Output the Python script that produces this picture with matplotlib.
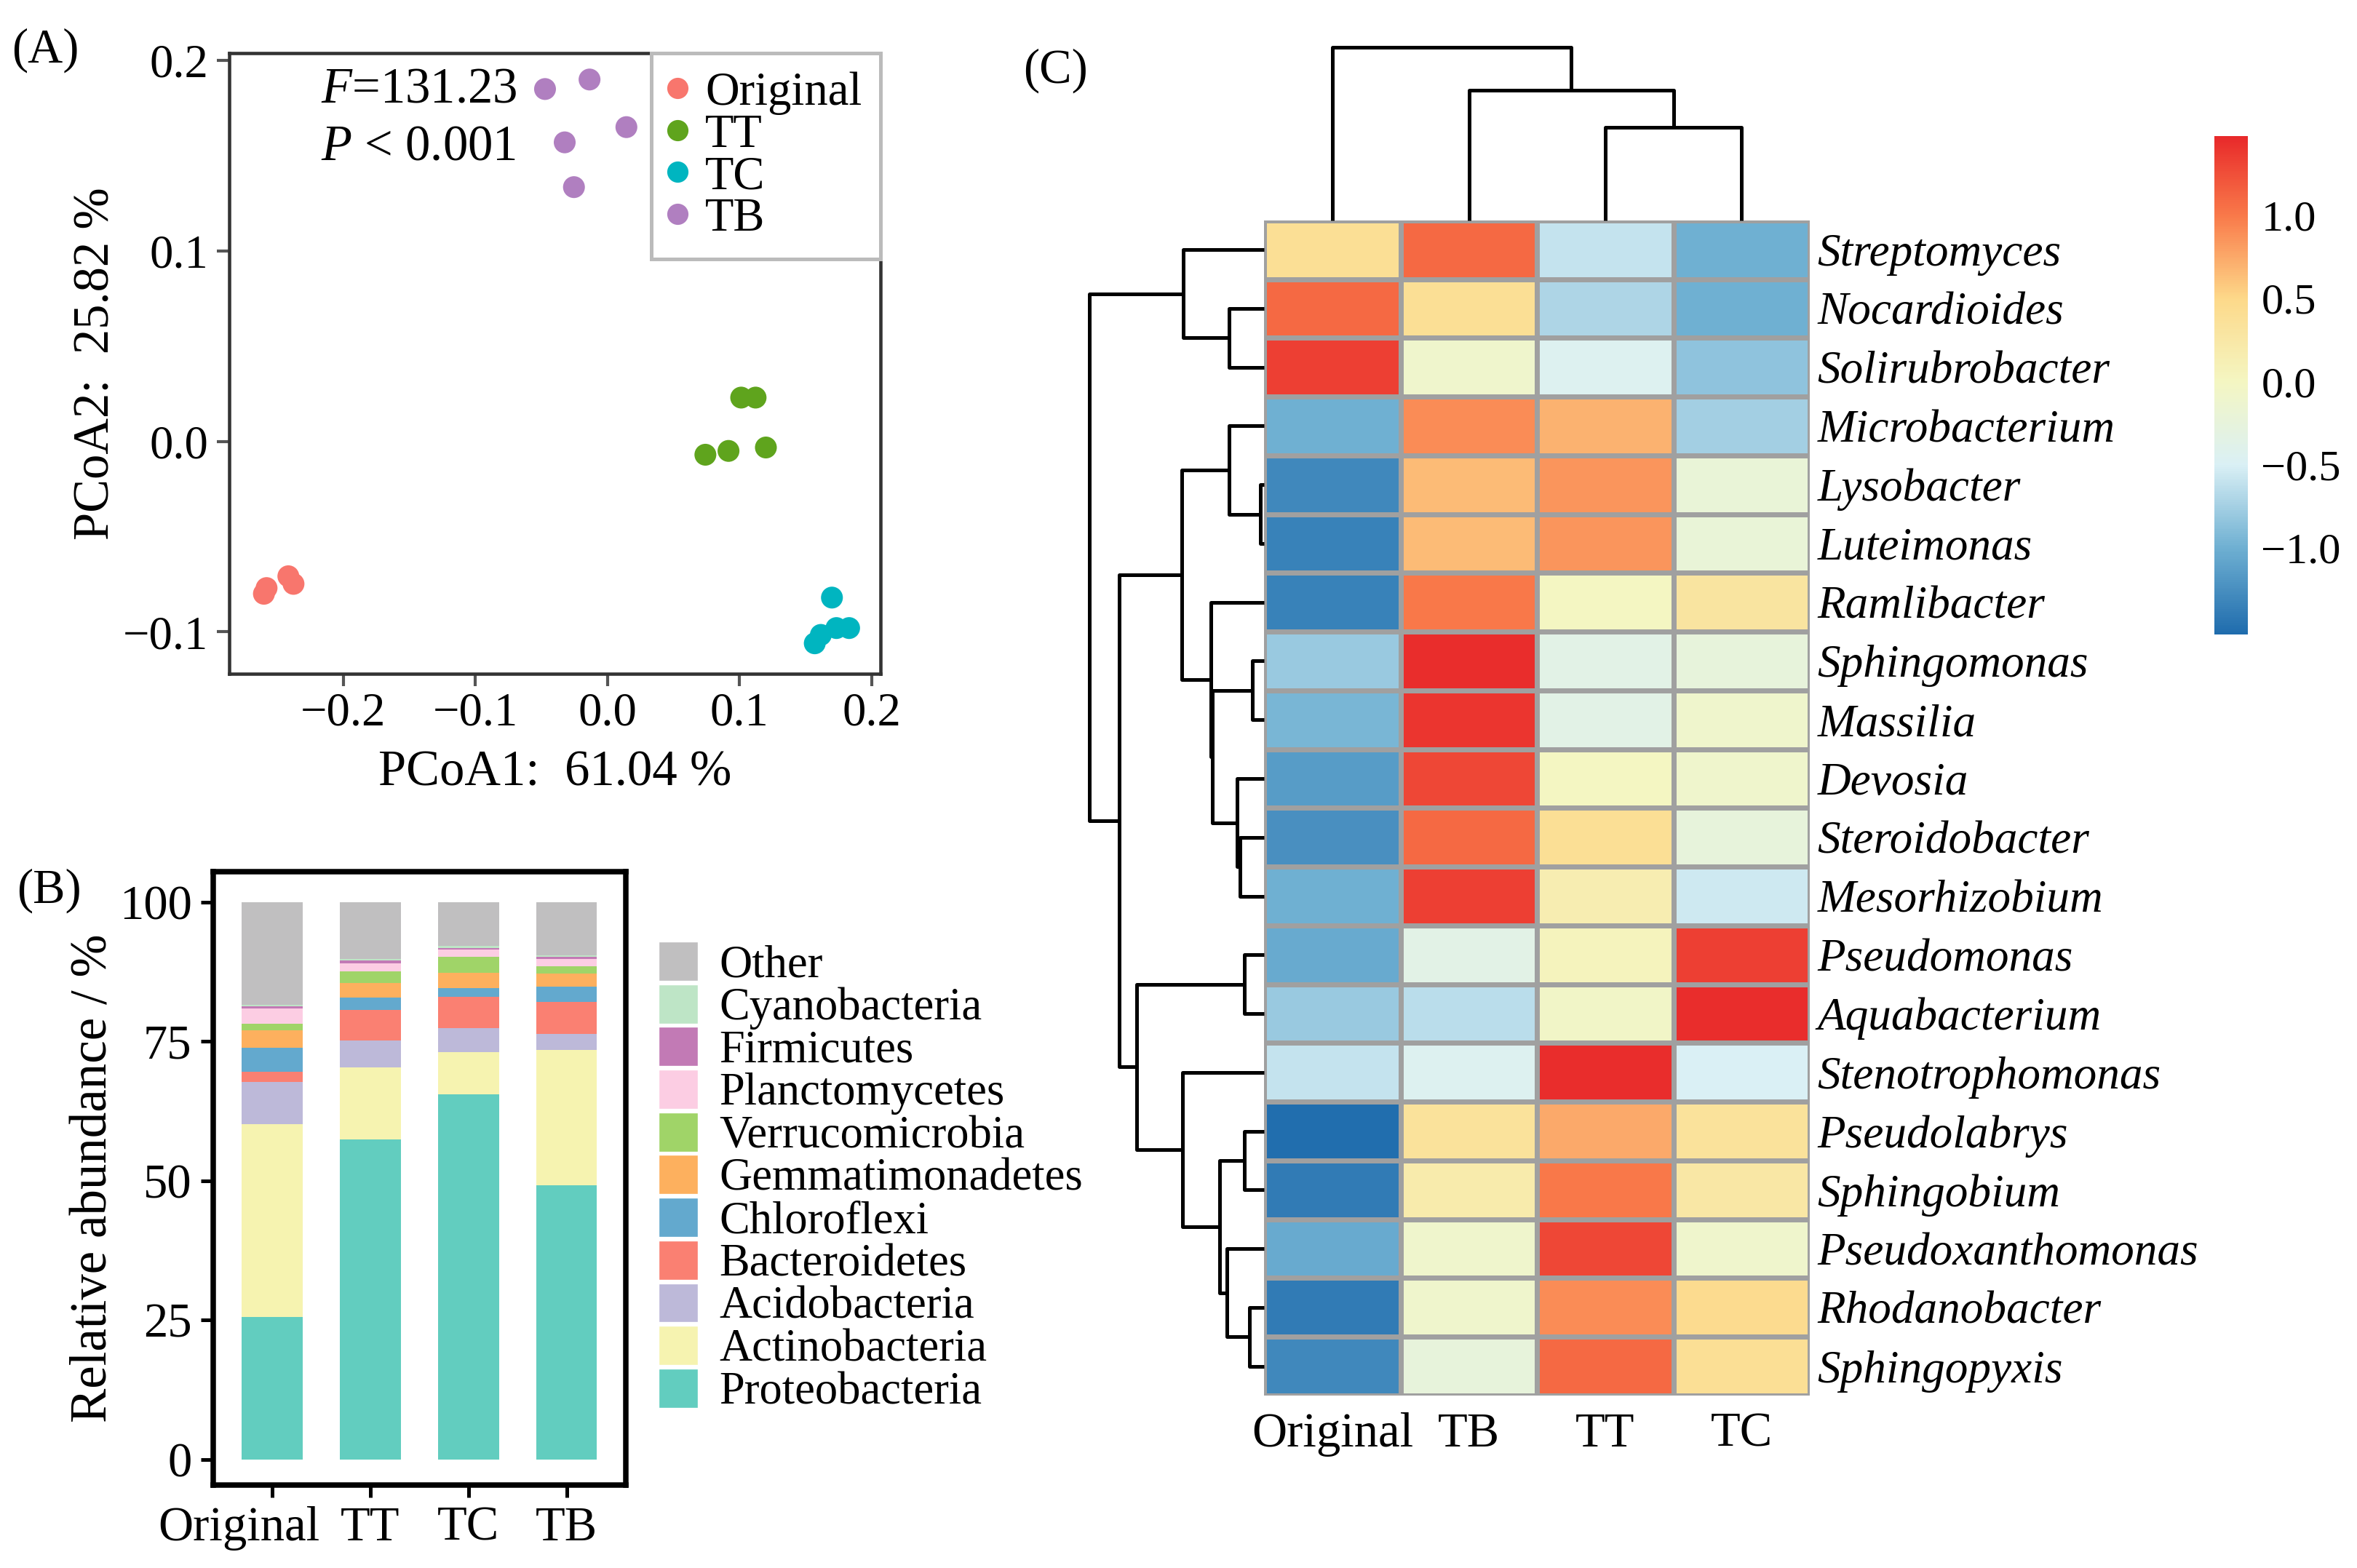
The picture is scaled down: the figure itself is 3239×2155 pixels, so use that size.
import numpy as np
import matplotlib
matplotlib.use("Agg")
import matplotlib.pyplot as plt
import matplotlib.transforms as mtransforms
from matplotlib.colors import LinearSegmentedColormap
from matplotlib.patches import Patch
from matplotlib.lines import Line2D

plt.rcParams['font.family'] = ['Liberation Serif', 'DejaVu Serif']
plt.rcParams['mathtext.fontset'] = 'custom'
plt.rcParams['mathtext.rm'] = 'Liberation Serif'
plt.rcParams['mathtext.it'] = 'Liberation Serif:italic'

# ---- (A) PCoA ----
groups = ["Original", "TT", "TC", "TB"]
group_colors = ["#F8766D", "#5FA41D", "#00B5C0", "#B07FC0"]
pc1_original = [-0.260, -0.258, -0.2415, -0.2376]
pc2_original = [-0.080, -0.077, -0.0708, -0.0748]
pc1_tt = [0.1013, 0.1122, 0.0742, 0.0917, 0.120]
pc2_tt = [0.023, 0.023, -0.007, -0.005, -0.0032]
pc1_tc = [0.170, 0.157, 0.1616, 0.1734, 0.183]
pc2_tc = [-0.082, -0.106, -0.1016, -0.098, -0.098]
pc1_tb = [-0.0472, -0.0135, 0.0144, -0.0323, -0.0253]
pc2_tb = [0.185, 0.190, 0.165, 0.157, 0.1335]

# ---- (B) relative abundance (Original, TT, TC, TB) ----
bar_samples = ["Original", "TT", "TC", "TB"]
phyla = ["Proteobacteria", "Actinobacteria", "Acidobacteria", "Bacteroidetes",
         "Chloroflexi", "Gemmatimonadetes", "Verrucomicrobia", "Planctomycetes",
         "Firmicutes", "Cyanobacteria", "Other"]
proteo = [25.5, 57.4, 65.5, 49.1]
actino = [34.6, 12.9, 7.5, 24.3]
acido = [7.6, 4.9, 4.3, 2.9]
bactero = [1.8, 5.4, 5.7, 5.7]
chloro = [4.3, 2.2, 1.5, 2.8]
gemma = [3.1, 2.7, 2.8, 2.3]
verru = [1.2, 2.1, 2.8, 1.3]
plancto = [2.8, 1.4, 1.4, 1.4]
firmi = [0.4, 0.5, 0.2, 0.4]
cyano = [0.2, 0.2, 0.4, 0.2]
other = [18.5, 10.3, 7.9, 9.6]
phylum_colors = ["#62CDBF", "#F6F3B0", "#BDB9D9", "#FA8072", "#63A9CE", "#FDB05E",
                 "#A0D468", "#FCCDE3", "#C27AB5", "#BEE5C6", "#C0BFC0"]

# ---- (C) heatmap, row z-scores ----
genera = ["Streptomyces", "Nocardioides", "Solirubrobacter", "Microbacterium",
          "Lysobacter", "Luteimonas", "Ramlibacter", "Sphingomonas", "Massilia",
          "Devosia", "Steroidobacter", "Mesorhizobium", "Pseudomonas",
          "Aquabacterium", "Stenotrophomonas", "Pseudolabrys", "Sphingobium",
          "Pseudoxanthomonas", "Rhodanobacter", "Sphingopyxis"]
heat_cols = ["Original", "TB", "TT", "TC"]
z_original = [0.4, 1.1, 1.35, -1.0, -1.3, -1.35, -1.35, -0.8, -0.95, -1.15,
              -1.25, -1.0, -1.05, -0.8, -0.6, -1.5, -1.4, -1.05, -1.4, -1.3]
z_tb = [1.1, 0.4, -0.1, 0.9, 0.65, 0.65, 1.0, 1.45, 1.4, 1.3,
        1.1, 1.35, -0.35, -0.65, -0.45, 0.35, 0.2, -0.1, -0.1, -0.25]
z_tt = [-0.6, -0.7, -0.45, 0.7, 0.85, 0.85, 0.0, -0.35, -0.35, 0.0,
        0.4, 0.15, 0.05, -0.05, 1.45, 0.75, 1.0, 1.3, 0.9, 1.1]
z_tc = [-1.0, -1.0, -0.85, -0.75, -0.2, -0.2, 0.3, -0.25, -0.1, -0.1,
        -0.25, -0.55, 1.35, 1.45, -0.5, 0.35, 0.25, -0.1, 0.45, 0.4]
# dendrograms: (height, left, right), leaves are indices
row_tree = (715, (330, 0, (143, 1, 2)),
            (592, (337, (145, 3, (15, 4, 5)),
                   (218, 6, (213, (48, 7, 8), (110, 9, (100, 10, 11))))),
             (522, (80, 12, 13),
              (335, 14, (182, (80, 15, 16), (152, 17, (62, 18, 19)))))))
col_tree = (340, 0, (255, 1, (182, 2, 3)))

fig = plt.figure(figsize=(3239 / 300, 2155 / 300), dpi=300)

# ---------------- panel A ----------------
ax = fig.add_axes([0.0974, 0.5703, 0.2763, 0.396])
pts = [(pc1_original, pc2_original), (pc1_tt, pc2_tt), (pc1_tc, pc2_tc), (pc1_tb, pc2_tb)]
for (xs, ys), c in zip(pts, group_colors):
    ax.scatter(xs, ys, s=52, color=c, edgecolors='none', zorder=3)
ax.set_xlim(-0.286, 0.207)
ax.set_ylim(-0.122, 0.204)
ax.set_xticks([-0.2, -0.1, 0.0, 0.1, 0.2])
ax.set_yticks([-0.1, 0.0, 0.1, 0.2])
ax.tick_params(labelsize=15.5, length=4, width=1.0, color='#555555', pad=3)
ax.tick_params(axis='x', pad=2)
for s in ax.spines.values():
    s.set_color('#333333')
    s.set_linewidth(1.1)
ax.set_xlabel("PCoA1:  61.04 %", fontsize=16.5, labelpad=5)
ax.set_ylabel("PCoA2:  25.82 %", fontsize=16.5, labelpad=1)
ax.text(0.14, 0.94, r"$F$=131.23", transform=ax.transAxes, fontsize=16.5, va='center')
ax.text(0.14, 0.848, r"$P$ < 0.001", transform=ax.transAxes, fontsize=16.5, va='center')
handles = [Line2D([], [], marker='o', ls='none', color=c, markersize=6) for c in group_colors]
leg = ax.legend(handles, groups, loc='upper right', bbox_to_anchor=(1.0, 1.0),
                borderaxespad=0, fontsize=15.5, handlelength=0.3, handletextpad=0.45,
                labelspacing=-0.03, borderpad=0.4, fancybox=False, framealpha=1)
leg.get_frame().set_edgecolor('#BBBBBB')
leg.get_frame().set_linewidth(1.2)
fig.text(0.005, 0.968, "(A)", fontsize=16, va='center')

# ---------------- panel B ----------------
axb = fig.add_axes([0.0904, 0.053, 0.175, 0.391])
stack = [proteo, actino, acido, bactero, chloro, gemma, verru, plancto, firmi, cyano, other]
xpos = np.arange(len(bar_samples))
bottom = np.zeros(len(bar_samples))
for vals, c in zip(stack, phylum_colors):
    axb.bar(xpos, vals, bottom=bottom, width=0.62, color=c, linewidth=0)
    bottom += np.array(vals)
axb.set_xlim(-0.6, 3.6)
axb.set_ylim(-4.6, 105.4)
axb.set_yticks([0, 25, 50, 75, 100])
axb.set_xticks(xpos)
axb.set_xticklabels(bar_samples)
axb.tick_params(labelsize=16, length=4, width=1.2, pad=3)
# first label sits left of its bar in the original
lab0 = axb.get_xticklabels()[0]
lab0.set_transform(lab0.get_transform() +
                   mtransforms.ScaledTranslation(-11 / 72, 0, fig.dpi_scale_trans))
for s in axb.spines.values():
    s.set_linewidth(1.8)
axb.set_ylabel("Relative abundance / %", fontsize=17, labelpad=0.5)
handles_b = [Patch(facecolor=c, edgecolor='white', linewidth=0.8) for c in phylum_colors][::-1]
fig.legend(handles_b, phyla[::-1], loc='upper left', bbox_to_anchor=(0.279, 0.400),
           frameon=False, fontsize=15, handlelength=0.9, handleheight=1.0,
           handletextpad=0.45, labelspacing=-0.075, borderpad=0, borderaxespad=0)
fig.text(0.007, 0.432, "(B)", fontsize=16, va='center')

# ---------------- panel C ----------------
zmat = np.array([z_original, z_tb, z_tt, z_tc]).T
cmap = LinearSegmentedColormap.from_list(
    "hm", [(0.0, "#1F6CAD"), (0.173, "#6FB0D2"), (0.34, "#DAF0F5"),
           (0.507, "#F4F6C2"), (0.673, "#FDD98A"), (0.84, "#F97A4A"), (1.0, "#E8292A")])
hm_left, hm_bottom, hm_w, hm_h = 0.5364, 0.110, 0.2315, 0.7495
axh = fig.add_axes([hm_left, hm_bottom, hm_w, hm_h])
mesh = axh.pcolormesh(np.arange(len(heat_cols) + 1), np.arange(len(genera) + 1), zmat,
                      cmap=cmap, vmin=-1.52, vmax=1.48, edgecolors='#A0A0A0', linewidth=1.3)
axh.set_xlim(0, len(heat_cols))
axh.set_ylim(len(genera), 0)
axh.set_xticks(np.arange(len(heat_cols)) + 0.5)
axh.set_xticklabels(heat_cols, fontsize=16)
axh.set_yticks(np.arange(len(genera)) + 0.5)
axh.set_yticklabels(genera, fontsize=15.2, style='italic')
axh.yaxis.tick_right()
axh.tick_params(length=0, pad=2.5)
axh.tick_params(axis='x', pad=5.5)
for s in axh.spines.values():
    s.set_visible(False)


def draw_tree(node, ax, orient):
    if not isinstance(node, tuple):
        return node + 0.5, 0
    h, a, b = node
    pa, ha = draw_tree(a, ax, orient)
    pb, hb = draw_tree(b, ax, orient)
    xs = [ha, h, h, hb]
    ys = [pa, pa, pb, pb]
    if orient == 'row':
        ax.plot(xs, ys, color='black', lw=1.2, clip_on=False, solid_capstyle='butt')
    else:
        ax.plot(ys, xs, color='black', lw=1.2, clip_on=False, solid_capstyle='butt')
    return (pa + pb) / 2, h


axr = fig.add_axes([hm_left - 0.0743, hm_bottom, 0.0743, hm_h])
draw_tree(row_tree, axr, 'row')
axr.set_xlim(715, 0)
axr.set_ylim(len(genera), 0)
axr.axis('off')

axc = fig.add_axes([hm_left, hm_bottom + hm_h, hm_w, 0.1105])
draw_tree(col_tree, axc, 'col')
axc.set_ylim(0, 340)
axc.set_xlim(0, len(heat_cols))
axc.axis('off')

cax = fig.add_axes([0.9395, 0.5954, 0.0141, 0.318])
cb = fig.colorbar(mesh, cax=cax, ticks=[-1.0, -0.5, 0.0, 0.5, 1.0])
cb.outline.set_visible(False)
cb.ax.tick_params(length=0, labelsize=14.5, pad=4.5)
cb.ax.set_yticklabels(["\u22121.0", "\u22120.5", "0.0", "0.5", "1.0"])
fig.text(0.434, 0.955, "(C)", fontsize=16, va='center')

fig.savefig("out.png", dpi=300)
